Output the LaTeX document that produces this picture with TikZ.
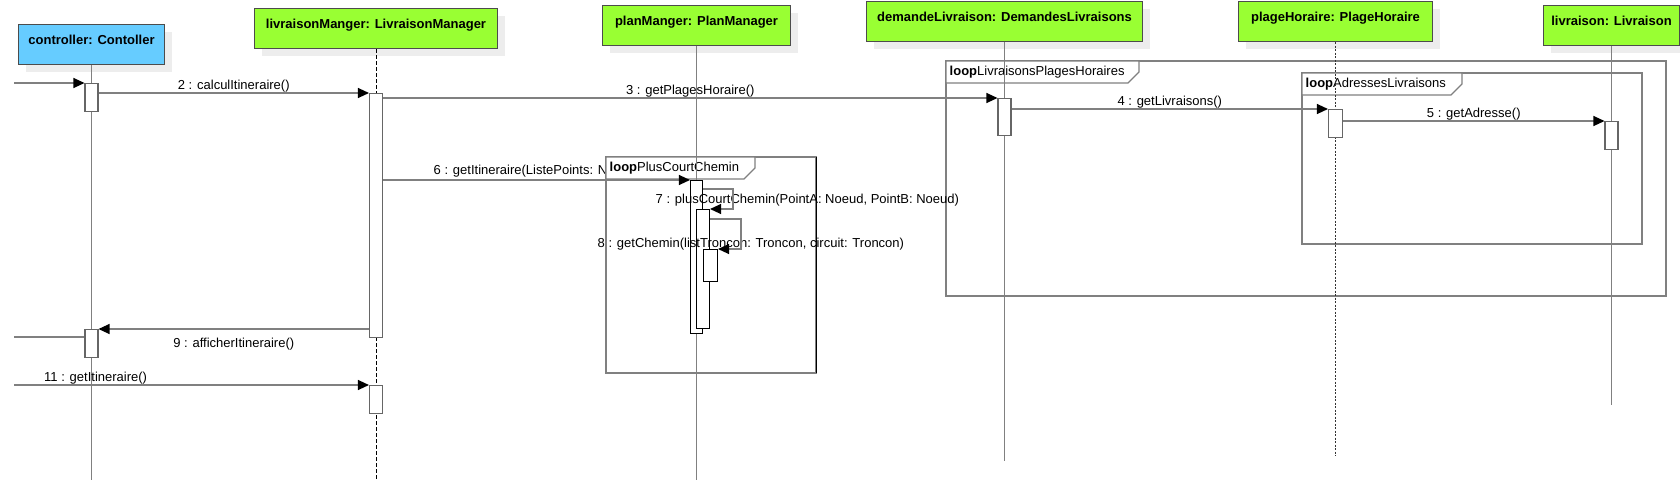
\documentclass[tikz,border=0pt]{standalone}
\usepackage{fontspec}
\setmainfont{Liberation Sans}
\usepackage{tikz}
\usetikzlibrary{arrows.meta,shadows}
\definecolor{objgreen}{HTML}{99FF33}
\definecolor{ctlblue}{HTML}{66CCFF}
\newcommand{\loopframe}[7]{%
  \draw[frame] (#2,#3) rectangle (#4,#5);
  \draw[frame,fill=white] (#2,#3) -- (#6,#3) -- (#6,#3+11) -- (#6-11,#3+22) -- (#2,#3+22) -- cycle;
  \node[lbl,anchor=west] (#1) at (#2+3,#3+11) {\textbf{loop}#7};}

\begin{document}
\begin{tikzpicture}[x=1pt,y=-1pt,
  head/.style={draw=black!70,line width=1pt,anchor=north west,inner sep=0pt,text height=20pt,text depth=20pt,
    font=\bfseries\fontsize{13}{15}\selectfont,drop shadow={shadow xshift=7pt,shadow yshift=-7pt,fill=black!7,opacity=1}},
  act/.style={draw=black!60,fill=white,line width=1.1pt,inner sep=0pt,minimum width=13pt,anchor=north},
  msg/.style={draw=gray,line width=1.2pt,-{Triangle[length=11pt,width=10pt,black]}},
  frame/.style={draw=gray,line width=1.2pt},
  life/.style={draw=gray,line width=1.2pt},
  lbl/.style={font=\fontsize{13}{15}\selectfont,inner sep=0.5pt}]
  \useasboundingbox (0,0) rectangle (1680,482);
    \node[head,fill=ctlblue,minimum width=146pt] (ctl) at (18,24) {controller: Contoller};
    \node[head,fill=objgreen,minimum width=243pt] (lm) at (254,8) {livraisonManger: LivraisonManager};
    \node[head,fill=objgreen,minimum width=188pt] (pm) at (602,5) {planManger: PlanManager};
    \node[head,fill=objgreen,minimum width=276pt] (dl) at (866,1) {demandeLivraison: DemandesLivraisons};
    \node[head,fill=objgreen,minimum width=194pt] (ph) at (1238,1) {plageHoraire: PlageHoraire};
    \node[head,fill=objgreen,minimum width=136pt] (lv) at (1543,5) {livraison: Livraison};
    \node[lbl,anchor=base west] (m6) at (433,174) {6 : getItineraire(ListePoints: N};
    \loopframe{lpA}{946}{61}{1666}{296}{1139}{LivraisonsPlagesHoraires}
    \loopframe{lpB}{1302}{73}{1642}{244}{1462}{AdressesLivraisons}
    \loopframe{lpC}{606}{157}{816}{373}{755}{PlusCourtChemin}
    \draw[line width=1pt] (816,157) -- (816,373);
    \foreach \n/\e in {ctl/480,pm/480,dl/461,lv/405}
      \draw[life] (\n.south) -- (\n.south |- 0,\e);
    \draw[line width=1pt,dash pattern=on 4pt off 2pt] (lm.south) -- (lm.south |- 0,480);
    \draw[gray!40!black,line width=1.3pt,dash pattern=on 2pt off 1.5pt] (ph.south) -- (ph.south |- 0,456);
    \node[act,minimum height=28pt] (c1) at (ctl.south |- 0,83) {};
    \node[act,minimum height=28pt] (c2) at (ctl.south |- 0,329) {};
    \node[act,minimum height=244pt] (lm1) at (lm.south |- 0,93) {};
    \node[act,minimum height=28pt] (lm2) at (lm.south |- 0,385) {};
    \node[act,draw=black,minimum height=153pt,minimum width=12pt] (pm1) at (pm.south |- 0,180) {};
    \node[act,draw=black,minimum height=119pt,xshift=6.5pt] (pm2) at (pm.south |- 0,209) {};
    \node[act,draw=black,minimum height=32pt,minimum width=14pt,xshift=14pt] (pm3) at (pm.south |- 0,249) {};
    \node[act,minimum height=37pt] (d1) at (dl.south |- 0,98) {};
    \node[act,minimum height=28pt,minimum width=14pt] (p1) at (ph.south |- 0,109) {};
    \node[act,minimum height=28pt] (l1) at (lv.south |- 0,121) {};
    \node[lbl,anchor=base west] (m7) at (655,203) {7 : plusCourtChemin(PointA: Noeud, PointB: Noeud)};
    \node[lbl,anchor=base west] (m8) at (597,247) {8 : getChemin(listTroncon: Troncon, circuit: Troncon)};
    \coordinate (in1) at (14,83);
    \coordinate (in2) at (14,385);
    \coordinate (out) at (14,337);
    \draw[msg] (in1) -- (c1.north west);
    \draw[msg] (c1.east |- lm1.north west) -- (lm1.north west) node[lbl,midway,above] (m2) {2 : calculItineraire()};
    \draw[msg] (lm1.east |- d1.north west) -- (d1.north west) node[lbl,midway,above] (m3) {3 : getPlagesHoraire()};
    \draw[msg] (d1.east |- p1.north west) -- (p1.north west) node[lbl,midway,above] (m4) {4 : getLivraisons()};
    \draw[msg] (p1.east |- l1.north west) -- (l1.north west) node[lbl,midway,above] (m5) {5 : getAdresse()};
    \draw[msg] (lm1.east |- pm1.north west) -- (pm1.north west);
    \draw[msg] (pm1.east |- 0,189) -- ++(30,0) |- (pm2.north east);
    \draw[msg] (pm2.east |- 0,219) -- ++(31,0) |- (pm3.north east);
    \draw[msg] (lm1.west |- c2.north east) -- (c2.north east) node[lbl,midway,below=8pt] (m9) {9 : afficherItineraire()};
    \draw[life] (c2.west |- out) -- (out);
    \draw[msg] (in2) -- (lm2.north west) node[lbl,pos=0.23,above] (m11) {11 : getItineraire()};
\end{tikzpicture}
\end{document}
